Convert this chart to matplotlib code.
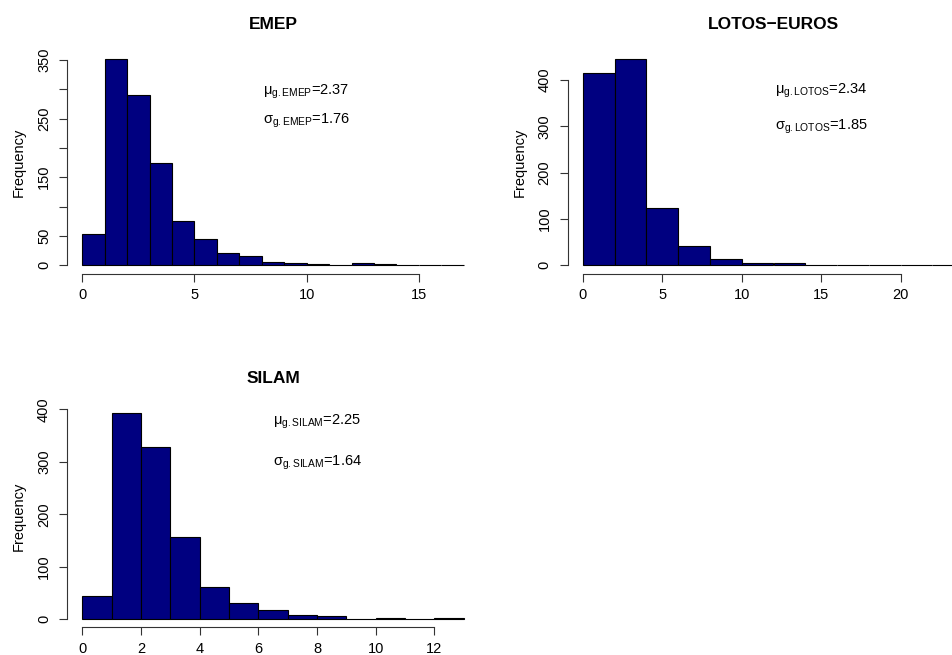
import numpy as np
import matplotlib
matplotlib.use("Agg")
import matplotlib.pyplot as plt
from matplotlib.transforms import offset_copy

plt.rcParams["font.family"] = ["Liberation Sans", "DejaVu Sans"]
plt.rcParams["mathtext.fontset"] = "custom"
plt.rcParams["mathtext.rm"] = "Liberation Sans"
plt.rcParams["mathtext.it"] = "Liberation Sans"

# Histogram counts per bin, with bin edges
emep_edges = list(range(0, 18, 1))
emep_counts = [53, 351, 290, 174, 75, 44, 21, 16, 5, 3, 2, 0, 3, 2, 0, 0, 1]

lotos_edges = list(range(0, 26, 2))
lotos_counts = [416, 445, 123, 42, 14, 5, 5, 1, 1, 0, 0, 1]

silam_edges = list(range(0, 14, 1))
silam_counts = [44, 393, 328, 157, 61, 30, 17, 7, 5, 0, 2, 0, 2]

# Axis ticks and labels
emep_xticks = [0, 5, 10, 15]
emep_yticks = [0, 50, 100, 150, 200, 250, 300, 350]
emep_yticklabels = ["0", "50", "", "150", "", "250", "", "350"]

lotos_xticks = [0, 5, 10, 15, 20]
lotos_yticks = [0, 100, 200, 300, 400]
lotos_yticklabels = ["0", "100", "200", "300", "400"]

silam_xticks = [0, 2, 4, 6, 8, 10, 12]
silam_yticks = [0, 100, 200, 300, 400]
silam_yticklabels = ["0", "100", "200", "300", "400"]

# Geometric mean / std annotations: (x, y, name, value)
emep_stats = [(10, 300, r"$\mu_{\mathrm{g.EMEP}}$", "2.37"),
              (10, 250, r"$\sigma_{\mathrm{g.EMEP}}$", "1.76")]
lotos_stats = [(15, 383, r"$\mu_{\mathrm{g.LOTOS}}$", "2.34"),
               (15, 305, r"$\sigma_{\mathrm{g.LOTOS}}$", "1.85")]
silam_stats = [(8, 382, r"$\mu_{\mathrm{g.SILAM}}$", "2.25"),
               (8, 303, r"$\sigma_{\mathrm{g.SILAM}}$", "1.64")]

W, H = 953, 655
fig = plt.figure(figsize=(W / 100, H / 100), dpi=100)


def make_axes(left, top, width=412, height=222.5):
    return fig.add_axes([left / W, 1 - (top + height) / H, width / W, height / H])


def draw_hist(ax, title, edges, counts, xticks, yticks, yticklabels, stats):
    edges = np.asarray(edges, dtype=float)
    counts = np.asarray(counts, dtype=float)
    widths = np.diff(edges)
    ax.bar(edges[:-1], counts, width=widths, align="edge",
           color="#000080", edgecolor="black", linewidth=0.8)
    lo, hi = edges[0], edges[-1]
    xr = hi - lo
    ax.set_xlim(lo - 0.04 * xr, hi + 0.04 * xr)
    ymax = counts.max()
    ax.set_ylim(-0.04 * ymax, ymax * 1.04)

    for s in ("top", "right"):
        ax.spines[s].set_visible(False)
    ax.spines["left"].set_bounds(yticks[0], yticks[-1])
    ax.spines["bottom"].set_bounds(xticks[0], xticks[-1])
    for s in ("left", "bottom"):
        ax.spines[s].set_linewidth(0.8)
        ax.spines[s].set_color("#333333")

    ax.set_xticks(xticks)
    ax.set_xticklabels([str(t) for t in xticks])
    ax.set_yticks(yticks)
    ax.set_yticklabels(yticklabels, rotation=90, va="center")
    ax.tick_params(axis="both", length=6, width=0.8, color="#333333",
                   labelsize=10.5)
    ax.tick_params(axis="x", pad=4.5)
    ax.tick_params(axis="y", pad=5.5)
    ax.set_ylabel("Frequency", fontsize=10.5, labelpad=8)
    ax.set_title(title, fontsize=12.5, fontweight="bold", pad=16)

    shifted = offset_copy(ax.transData, fig=fig, x=0, y=-2, units="points")
    for x, y, name, val in stats:
        ax.text(x, y, name + "=" + val, ha="center", va="center",
                fontsize=10.5, transform=shifted)


ax1 = make_axes(67, 51)
draw_hist(ax1, "EMEP", emep_edges, emep_counts, emep_xticks,
          emep_yticks, emep_yticklabels, emep_stats)

ax2 = make_axes(567.5, 51)
draw_hist(ax2, "LOTOS\u2212EUROS", lotos_edges, lotos_counts, lotos_xticks,
          lotos_yticks, lotos_yticklabels, lotos_stats)

ax3 = make_axes(67, 404.8)
draw_hist(ax3, "SILAM", silam_edges, silam_counts, silam_xticks,
          silam_yticks, silam_yticklabels, silam_stats)

fig.savefig("out.png", dpi=100)
